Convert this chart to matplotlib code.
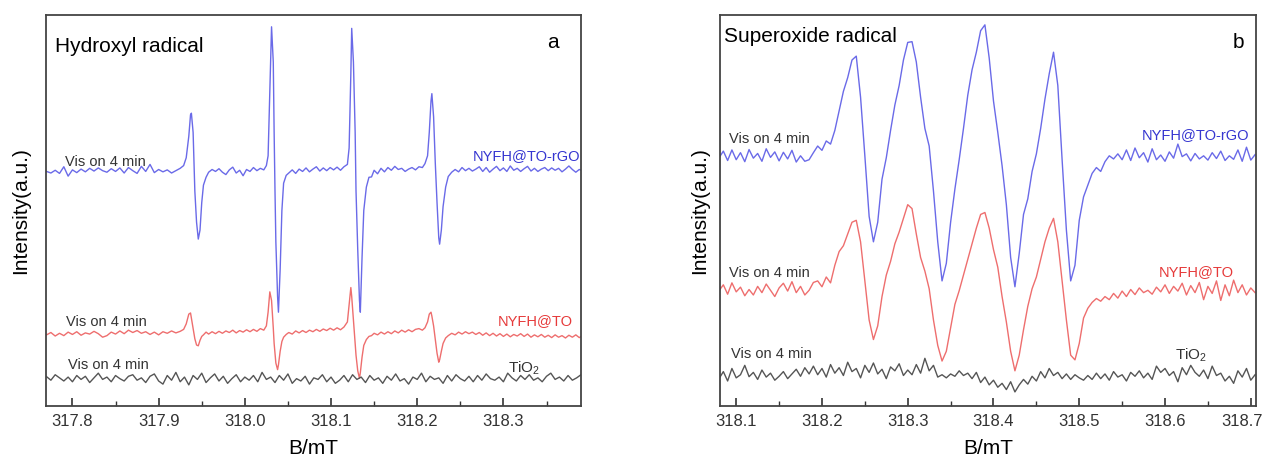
import matplotlib
matplotlib.use("Agg")
import matplotlib.pyplot as plt
import matplotlib.transforms as mtransforms
from matplotlib.ticker import MultipleLocator, FormatStrFormatter

plt.rcParams['font.family'] = ['Liberation Sans', 'DejaVu Sans']
plt.rcParams['mathtext.default'] = 'regular'

# ---- panel a: hydroxyl radical (DMPO-OH) ----
field_a = [317.770, 317.775, 317.780, 317.785, 317.790, 317.795, 317.800, 317.805, 317.810, 317.815,
           317.820, 317.825, 317.830, 317.835, 317.840, 317.845, 317.850, 317.855, 317.860, 317.865,
           317.870, 317.875, 317.880, 317.885, 317.890, 317.895, 317.900, 317.905, 317.910, 317.915,
           317.920, 317.925, 317.929, 317.932, 317.935, 317.937, 317.938, 317.940, 317.941, 317.942,
           317.944, 317.946, 317.948, 317.950, 317.952, 317.955, 317.958, 317.962, 317.966, 317.970,
           317.974, 317.978, 317.982, 317.986, 317.990, 317.994, 317.998, 318.002, 318.006, 318.010,
           318.014, 318.018, 318.022, 318.025, 318.027, 318.029, 318.031, 318.033, 318.034, 318.035,
           318.036, 318.038, 318.039, 318.041, 318.043, 318.045, 318.048, 318.051, 318.055, 318.059,
           318.063, 318.067, 318.071, 318.075, 318.079, 318.083, 318.087, 318.091, 318.095, 318.099,
           318.103, 318.107, 318.111, 318.115, 318.119, 318.121, 318.123, 318.124, 318.126, 318.128,
           318.129, 318.131, 318.133, 318.134, 318.136, 318.138, 318.141, 318.144, 318.147, 318.150,
           318.154, 318.158, 318.162, 318.166, 318.170, 318.174, 318.178, 318.182, 318.186, 318.190,
           318.194, 318.198, 318.202, 318.206, 318.209, 318.212, 318.214, 318.216, 318.217, 318.219,
           318.221, 318.223, 318.225, 318.226, 318.228, 318.230, 318.233, 318.236, 318.240, 318.244,
           318.248, 318.252, 318.256, 318.260, 318.264, 318.268, 318.272, 318.276, 318.280, 318.284,
           318.288, 318.292, 318.296, 318.300, 318.304, 318.308, 318.312, 318.316, 318.320, 318.324,
           318.328, 318.332, 318.336, 318.340, 318.344, 318.348, 318.352, 318.356, 318.360, 318.364,
           318.368, 318.372, 318.376, 318.380, 318.384, 318.388, 318.392]

oh_rgo = [60.0, 59.6, 60.3, 59.5, 61.2, 58.8, 60.4, 59.7, 60.6, 59.9,
          60.8, 60.1, 60.9, 60.2, 59.8, 60.7, 60.0, 60.9, 59.6, 61.0,
          60.2, 59.5, 61.3, 60.0, 61.8, 59.7, 60.5, 59.9, 60.4, 59.6,
          60.2, 60.8, 61.5, 63.5, 69.0, 74.5, 74.9, 70.0, 62.0, 55.0,
          47.0, 42.7, 45.0, 52.0, 56.5, 58.5, 59.8, 60.5, 60.0, 60.7,
          59.8, 59.2, 60.4, 61.1, 59.6, 60.3, 58.9, 60.5, 60.0, 61.0,
          60.2, 60.8, 60.4, 61.5, 64.0, 80.0, 97.0, 88.0, 70.0, 55.0,
          42.0, 28.0, 24.0, 35.0, 50.0, 57.0, 59.0, 59.6, 60.4, 59.5,
          60.6, 60.0, 60.9, 59.9, 60.6, 61.2, 60.1, 60.9, 60.2, 61.0,
          60.4, 61.1, 60.3, 61.2, 61.8, 66.0, 85.0, 96.6, 88.0, 70.0,
          55.0, 40.0, 27.0, 24.0, 38.0, 50.0, 56.0, 58.5, 58.6, 60.3,
          59.4, 60.8, 59.9, 61.0, 60.3, 61.3, 60.5, 60.8, 60.0, 60.6,
          61.0, 60.4, 61.2, 61.0, 62.0, 64.0, 70.0, 78.0, 79.9, 74.0,
          62.0, 52.0, 43.0, 41.4, 45.0, 51.0, 56.0, 58.7, 59.8, 60.5,
          59.9, 61.0, 60.2, 60.8, 60.1, 60.6, 61.2, 60.0, 61.0, 59.8,
          60.6, 61.3, 60.2, 60.9, 60.0, 61.4, 60.3, 60.8, 60.0, 60.7,
          61.3, 60.1, 60.8, 60.0, 60.6, 61.0, 60.2, 60.9, 60.3, 60.8,
          59.9, 60.6, 61.4, 60.5, 59.8, 60.5, 60.2]

oh_to = [18.2, 18.8, 17.9, 18.6, 18.0, 18.9, 18.3, 19.0, 18.1, 18.7,
         18.4, 19.1, 18.5, 17.6, 18.0, 18.9, 18.4, 19.2, 18.5, 19.4,
         18.8, 19.3, 18.6, 19.0, 18.3, 18.9, 18.2, 19.0, 18.6, 19.2,
         18.7, 19.1, 19.6, 21.0, 23.5, 23.8, 22.5, 20.0, 18.5, 17.2,
         15.6, 15.4, 16.8, 17.8, 18.2, 18.9, 18.4, 19.0, 18.5, 19.1,
         18.6, 19.2, 18.8, 19.4, 18.7, 19.3, 18.9, 19.5, 19.0, 19.6,
         19.1, 19.8, 19.4, 20.5, 24.0, 29.2, 27.0, 20.0, 16.0, 13.5,
         11.0, 9.3, 10.5, 14.0, 16.5, 17.6, 18.3, 18.8, 18.4, 19.2,
         18.7, 19.3, 18.8, 19.4, 19.0, 19.6, 19.1, 19.7, 19.3, 19.9,
         19.4, 20.0, 19.5, 20.2, 21.5, 26.0, 30.3, 28.0, 22.0, 16.0,
         13.0, 9.0, 7.1, 8.5, 12.5, 15.5, 17.0, 17.8, 18.0, 18.6,
         18.2, 18.9, 18.4, 19.0, 18.5, 19.2, 18.7, 19.4, 18.9, 19.5,
         19.0, 19.6, 19.8, 19.4, 20.0, 21.5, 23.5, 24.0, 23.0, 20.5,
         17.0, 13.5, 11.2, 11.8, 14.0, 16.0, 17.4, 18.0, 18.6, 18.2,
         18.9, 18.4, 19.0, 18.5, 18.9, 18.3, 18.8, 18.1, 18.7, 18.0,
         18.6, 17.9, 18.5, 17.8, 18.4, 17.7, 18.3, 17.9, 18.5, 17.8,
         18.4, 17.6, 18.2, 17.7, 18.3, 17.6, 18.1, 17.5, 18.2, 17.6,
         18.0, 17.4, 18.1, 17.6, 18.2, 17.5, 18.0]

field_a_tio2 = [317.770, 317.775, 317.780, 317.785, 317.790, 317.795, 317.800, 317.805, 317.810, 317.815,
                317.820, 317.825, 317.830, 317.835, 317.840, 317.845, 317.850, 317.855, 317.860, 317.865,
                317.870, 317.875, 317.880, 317.885, 317.890, 317.895, 317.900, 317.905, 317.910, 317.915,
                317.920, 317.925, 317.930, 317.935, 317.940, 317.945, 317.950, 317.955, 317.960, 317.965,
                317.970, 317.975, 317.980, 317.985, 317.990, 317.995, 318.000, 318.005, 318.010, 318.015,
                318.020, 318.025, 318.030, 318.035, 318.040, 318.045, 318.050, 318.055, 318.060, 318.065,
                318.070, 318.075, 318.080, 318.085, 318.090, 318.095, 318.100, 318.105, 318.110, 318.115,
                318.120, 318.125, 318.130, 318.135, 318.140, 318.145, 318.150, 318.155, 318.160, 318.165,
                318.170, 318.175, 318.180, 318.185, 318.190, 318.195, 318.200, 318.205, 318.210, 318.215,
                318.220, 318.225, 318.230, 318.235, 318.240, 318.245, 318.250, 318.255, 318.260, 318.265,
                318.270, 318.275, 318.280, 318.285, 318.290, 318.295, 318.300, 318.305, 318.310, 318.315,
                318.320, 318.325, 318.330, 318.335, 318.340, 318.345, 318.350, 318.355, 318.360, 318.365,
                318.370, 318.375, 318.380, 318.385, 318.390]

oh_tio2 = [7.5, 6.6, 8.0, 7.2, 6.4, 7.4, 6.2, 7.8, 6.8, 7.6,
           6.0, 7.2, 8.4, 6.8, 7.4, 6.2, 7.8, 7.0, 6.4, 7.6,
           8.0, 6.6, 7.2, 6.0, 7.6, 8.2, 6.4, 5.6, 7.8, 6.6,
           8.6, 6.2, 7.4, 5.4, 7.8, 6.8, 8.4, 6.0, 7.2, 8.2,
           6.4, 7.6, 5.8, 7.0, 8.0, 6.2, 7.4, 6.6, 7.8, 6.2,
           8.6, 6.8, 7.4, 6.0, 7.8, 6.6, 8.2, 5.8, 7.0, 6.4,
           7.6, 5.6, 7.2, 6.8, 8.0, 6.2, 7.4, 5.8, 6.6, 7.8,
           6.2, 8.0, 6.8, 7.4, 6.0, 7.8, 6.6, 7.2, 5.8, 7.6,
           6.6, 8.2, 6.4, 7.0, 5.6, 7.4, 6.8, 8.4, 6.2, 7.6,
           6.8, 7.2, 5.8, 7.8, 6.4, 8.0, 7.0, 6.4, 7.6, 6.2,
           7.8, 6.6, 8.2, 7.0, 6.6, 7.4, 6.2, 8.4, 7.2, 6.4,
           7.8, 6.8, 8.0, 6.6, 7.2, 6.2, 7.6, 8.4, 6.8, 7.4,
           6.4, 7.8, 6.6, 7.2, 8.0]

# ---- panel b: superoxide radical (DMPO-OOH) ----
field_b = [318.080, 318.085, 318.090, 318.095, 318.100, 318.105, 318.110, 318.115, 318.120, 318.125,
           318.130, 318.135, 318.140, 318.145, 318.150, 318.155, 318.160, 318.165, 318.170, 318.175,
           318.180, 318.185, 318.190, 318.195, 318.200, 318.205, 318.210, 318.215, 318.220, 318.225,
           318.230, 318.235, 318.240, 318.245, 318.250, 318.255, 318.260, 318.265, 318.270, 318.275,
           318.280, 318.285, 318.290, 318.295, 318.300, 318.305, 318.310, 318.315, 318.320, 318.325,
           318.330, 318.335, 318.340, 318.345, 318.350, 318.355, 318.360, 318.365, 318.370, 318.375,
           318.380, 318.385, 318.390, 318.395, 318.400, 318.405, 318.410, 318.415, 318.420, 318.425,
           318.430, 318.435, 318.440, 318.445, 318.450, 318.455, 318.460, 318.465, 318.470, 318.475,
           318.480, 318.485, 318.490, 318.495, 318.500, 318.505, 318.510, 318.515, 318.520, 318.525,
           318.530, 318.535, 318.540, 318.545, 318.550, 318.555, 318.560, 318.565, 318.570, 318.575,
           318.580, 318.585, 318.590, 318.595, 318.600, 318.605, 318.610, 318.615, 318.620, 318.625,
           318.630, 318.635, 318.640, 318.645, 318.650, 318.655, 318.660, 318.665, 318.670, 318.675,
           318.680, 318.685, 318.690, 318.695, 318.700, 318.705]

oo_rgo = [63.5, 65.2, 62.8, 65.5, 63.0, 64.8, 62.5, 65.6, 63.4, 64.6,
          62.6, 65.8, 63.6, 65.0, 62.7, 64.9, 63.2, 65.4, 62.4, 64.0,
          62.6, 63.0, 64.8, 66.5, 65.4, 67.8, 67.0, 70.5, 75.5, 80.5,
          84.0, 88.5, 89.5, 79.0, 64.0, 48.5, 42.0, 47.0, 58.0, 63.5,
          70.5, 77.0, 82.0, 88.5, 93.0, 93.2, 88.0, 79.0, 71.0, 66.5,
          55.0, 42.0, 32.0, 36.5, 47.0, 55.5, 63.0, 71.0, 79.5, 86.0,
          90.5, 96.0, 97.5, 89.0, 78.0, 70.0, 61.5, 51.5, 38.0, 30.5,
          39.0, 49.0, 53.0, 60.0, 64.5, 71.0, 78.5, 85.0, 90.5, 82.0,
          63.0, 45.0, 32.0, 36.0, 47.5, 53.5, 56.5, 59.5, 61.0, 60.0,
          62.5, 64.0, 63.2, 64.5, 63.0, 65.5, 62.8, 66.0, 63.5, 64.8,
          62.4, 65.8, 63.0, 64.2, 62.6, 65.0, 63.4, 67.0, 63.8, 64.5,
          62.7, 64.6, 63.2, 64.0, 62.9, 64.8, 63.3, 65.2, 62.8, 64.0,
          63.1, 65.5, 62.6, 66.2, 62.9, 64.3]

oo_to = [29.5, 31.0, 28.6, 31.5, 29.2, 30.4, 28.2, 29.8, 28.4, 30.6,
         29.0, 31.2, 29.6, 28.0, 30.2, 31.4, 29.4, 31.8, 29.0, 30.6,
         28.4, 29.6, 31.6, 32.0, 30.5, 33.0, 31.5, 36.0, 39.5, 41.0,
         44.0, 47.0, 47.5, 42.0, 32.0, 22.0, 17.0, 20.5, 28.0, 33.5,
         37.0, 41.5, 44.5, 48.0, 51.5, 50.5, 44.0, 38.0, 34.5, 30.0,
         22.0, 15.5, 11.5, 14.0, 20.0, 26.0, 29.5, 33.5, 37.5, 41.5,
         45.5, 49.0, 49.5, 45.5, 40.0, 35.5, 28.0, 21.5, 14.0, 9.0,
         13.0, 19.5, 25.5, 30.0, 33.0, 37.5, 42.0, 45.5, 48.0, 42.0,
         32.0, 22.0, 13.0, 11.8, 16.0, 22.5, 25.0, 26.5, 27.5, 26.8,
         28.0, 27.2, 28.8, 27.6, 29.4, 28.0, 29.8, 28.5, 30.2, 29.0,
         29.6, 28.6, 30.4, 29.2, 31.0, 28.8, 30.6, 29.4, 31.4, 28.4,
         30.8, 29.0, 31.6, 27.2, 30.6, 28.8, 32.0, 27.0, 31.0, 28.2,
         32.2, 29.0, 31.0, 28.4, 30.2, 29.0]

oo_tio2 = [7.0, 8.8, 6.4, 9.6, 7.2, 8.0, 10.4, 7.5, 8.6, 6.8,
           9.2, 7.4, 8.4, 6.6, 7.6, 8.8, 7.0, 8.2, 9.4, 7.6,
           9.8, 8.2, 10.2, 8.0, 9.6, 7.4, 10.6, 8.4, 9.8, 7.8,
           11.2, 8.8, 9.6, 7.2, 10.4, 8.6, 11.0, 8.2, 9.4, 7.0,
           10.0, 9.0, 10.8, 7.8, 9.2, 8.0, 10.6, 8.4, 12.2, 9.0,
           10.4, 7.4, 8.0, 7.2, 8.2, 7.6, 9.0, 7.8, 8.4, 7.0,
           8.6, 6.0, 7.4, 5.4, 6.6, 4.8, 5.8, 4.2, 6.2, 3.6,
           5.4, 6.8, 5.6, 7.6, 6.4, 8.8, 7.2, 9.6, 7.8, 8.6,
           7.0, 8.2, 6.8, 8.0, 7.2, 6.6, 7.8, 6.8, 8.4, 7.0,
           8.2, 6.6, 8.8, 7.4, 8.0, 6.4, 8.6, 7.6, 9.0, 7.2,
           8.4, 6.8, 10.2, 8.6, 9.6, 7.8, 8.8, 6.2, 9.8, 8.0,
           10.4, 8.6, 7.6, 9.2, 7.0, 10.2, 7.8, 8.4, 6.4, 7.6,
           5.8, 9.0, 7.4, 9.6, 6.6, 8.0]

sample_names = ['NYFH@TO-rGO', 'NYFH@TO', 'TiO$_2$']
time_label = 'Vis on 4 min'

blue, red, grey = '#6a6ae8', '#ee6e6e', '#555555'
blue_t, red_t, grey_t = '#3535d0', '#e63a3a', '#333333'

fig = plt.figure(figsize=(12.63, 4.61), dpi=100)
ax1 = fig.add_axes([0.0362, 0.1193, 0.4238, 0.848])
ax2 = fig.add_axes([0.5700, 0.1193, 0.4244, 0.848])

ax1.plot(field_a, oh_rgo, color=blue, lw=1.0)
ax1.plot(field_a, oh_to, color=red, lw=1.0)
ax1.plot(field_a_tio2, oh_tio2, color=grey, lw=1.0)

ax2.plot(field_b, oo_rgo, color=blue, lw=1.0)
ax2.plot(field_b, oo_to, color=red, lw=1.0)
ax2.plot(field_b, oo_tio2, color=grey, lw=1.0)

ax1.set_xlim(317.769, 318.39)
ax2.set_xlim(318.081, 318.706)

# text on panel a
ax1.text(317.791, 62.4, time_label, fontsize=10.5, color=grey_t, va='center')
ax1.text(317.793, 21.6, time_label, fontsize=10.5, color=grey_t, va='center')
ax1.text(317.795, 10.4, time_label, fontsize=10.5, color=grey_t, va='center')
ax1.text(318.389, 63.9, sample_names[0], fontsize=10.5, color=blue_t, va='center', ha='right')
ax1.text(318.380, 21.8, sample_names[1], fontsize=10.5, color=red_t, va='center', ha='right')
ax1.text(318.343, 9.6, sample_names[2], fontsize=11, color=grey_t, va='center', ha='right')
ax1.text(0.018, 0.92, 'Hydroxyl radical', transform=ax1.transAxes, fontsize=15, va='center')
ax1.text(0.947, 0.93, 'a', transform=ax1.transAxes, fontsize=15, va='center', ha='center')

# text on panel b
ax2.text(318.092, 68.3, time_label, fontsize=10.5, color=grey_t, va='center')
ax2.text(318.092, 34.0, time_label, fontsize=10.5, color=grey_t, va='center')
ax2.text(318.094, 13.3, time_label, fontsize=10.5, color=grey_t, va='center')
ax2.text(318.698, 69.4, sample_names[0], fontsize=10.5, color=blue_t, va='center', ha='right')
ax2.text(318.680, 34.2, sample_names[1], fontsize=10.5, color=red_t, va='center', ha='right')
ax2.text(318.649, 13.0, sample_names[2], fontsize=11, color=grey_t, va='center', ha='right')
ax2.text(0.008, 0.945, 'Superoxide radical', transform=ax2.transAxes, fontsize=15, va='center')
ax2.text(0.968, 0.93, 'b', transform=ax2.transAxes, fontsize=15, va='center', ha='center')

for ax, lp in ((ax1, 11), (ax2, 7.5)):
    ax.set_ylim(0, 100)
    ax.set_yticks([])
    ax.xaxis.set_major_locator(MultipleLocator(0.1))
    ax.xaxis.set_minor_locator(MultipleLocator(0.05))
    ax.xaxis.set_major_formatter(FormatStrFormatter('%.1f'))
    ax.tick_params(axis='x', which='major', direction='in', length=6, width=1.2,
                   labelsize=12, colors='#333333', pad=6)
    ax.tick_params(axis='x', which='minor', direction='in', length=3.5, width=1.0, colors='#333333')
    for s in ax.spines.values():
        s.set_linewidth(1.3)
        s.set_color('#444444')
    ax.set_xlabel('B/mT', fontsize=15, labelpad=7)
    ax.set_ylabel('Intensity(a.u.)', fontsize=15, labelpad=lp)

# keep the 318.7 label inside the canvas edge
fig.canvas.draw()
shift = mtransforms.ScaledTranslation(-6 / 72, 0, fig.dpi_scale_trans)
for lab in ax2.get_xticklabels():
    if lab.get_text() == '318.7':
        lab.set_transform(lab.get_transform() + shift)

plt.savefig('out.png', dpi=100)
plt.close()
